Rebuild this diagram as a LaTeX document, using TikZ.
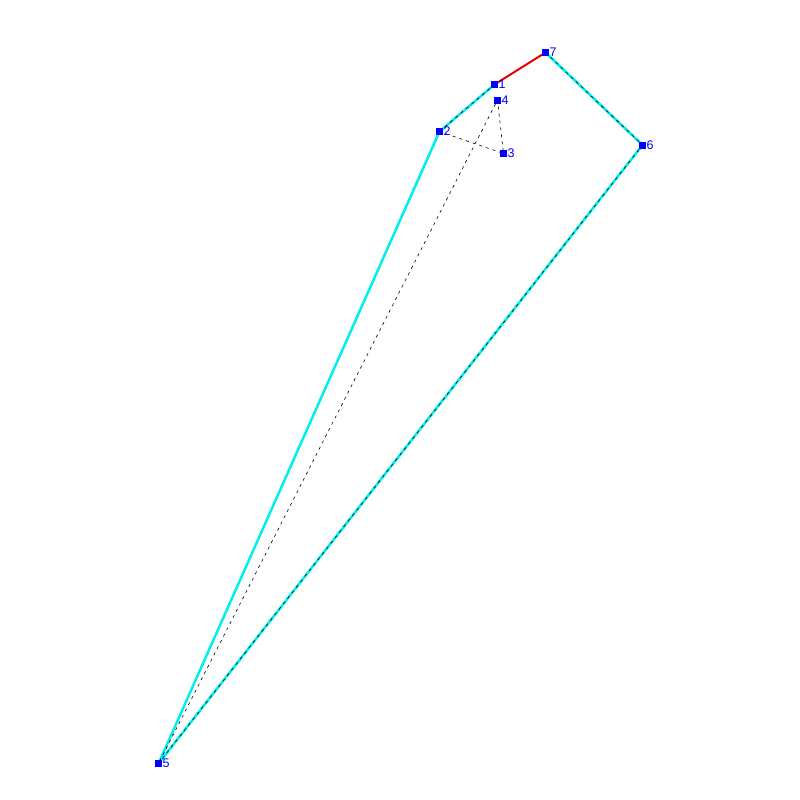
\documentclass[tikz,border=0pt]{standalone}
\usepackage{fontspec}
\setmainfont{Liberation Sans}
\definecolor{cy}{RGB}{0,238,238}
\definecolor{bl}{RGB}{0,0,255}
\definecolor{rd}{RGB}{230,0,0}
\begin{document}
\begin{tikzpicture}[x=1pt,y=-1pt,
  pt/.style={fill=bl,minimum size=7pt,inner sep=0pt,outer sep=0pt},
  lbl/.style={text=bl,font=\fontsize{12.5}{12.5}\selectfont,inner sep=0pt,anchor=west},
  cyl/.style={draw=cy,line width=2.5pt},
  rdl/.style={draw=rd,line width=2pt},
  dsh/.style={draw=black,line width=0.6pt,dash pattern=on 3pt off 4pt}]
\useasboundingbox (0,0) rectangle (800,800);
\node[pt] (n1) at (494.5,84.5) {};
\node[pt] (n2) at (439.5,131.5) {};
\node[pt] (n3) at (503.5,153.5) {};
\node[pt] (n4) at (497.5,100) {};
\node[pt] (n5) at (158.5,763.5) {};
\node[pt] (n6) at (642.5,145) {};
\node[pt] (n7) at (545.5,52.5) {};
\draw[cyl] (n5.center) -- (n2.center) -- (n1.center);
\draw[cyl] (n7.center) -- (n6.center) -- (n5.center);
\draw[rdl] (n1.center) -- (n7.center);
\draw[dsh] (n2.center) -- (n1.center);
\draw[dsh] (n7.center) -- (n6.center) -- (n5.center);
\draw[dsh] (n2.center) -- (n3.center) -- (n4.center) -- (n5.center);
\foreach \i in {1,...,7} {\node[pt] at (n\i) {};}
\node[lbl] (l1) at ([xshift=4pt]n1.center) {1};
\node[lbl] (l2) at ([xshift=4pt]n2.center) {2};
\node[lbl] (l3) at ([xshift=4pt]n3.center) {3};
\node[lbl] (l4) at ([xshift=4pt]n4.center) {4};
\node[lbl] (l5) at ([xshift=4pt]n5.center) {5};
\node[lbl] (l6) at ([xshift=4pt]n6.center) {6};
\node[lbl] (l7) at ([xshift=4pt]n7.center) {7};
\end{tikzpicture}
\end{document}
